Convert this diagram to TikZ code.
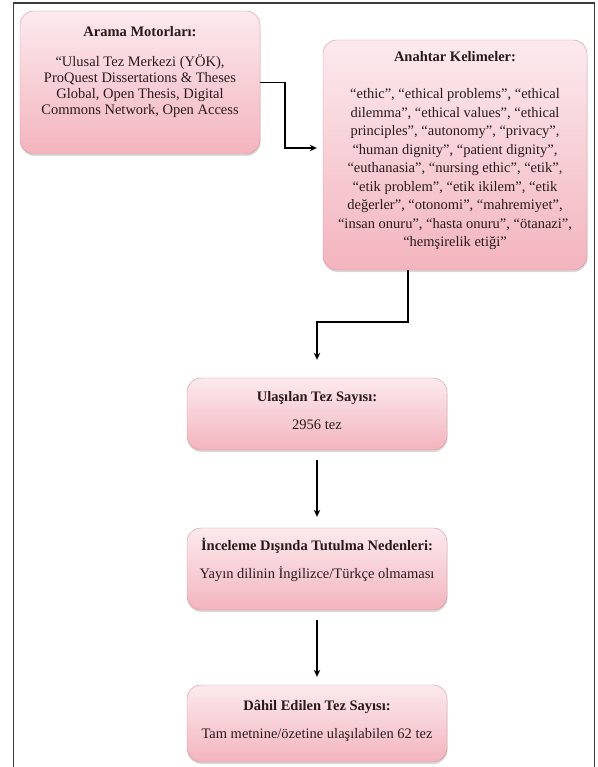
\documentclass[tikz,border=0pt]{standalone}
\usepackage{fontspec}
\setmainfont{Liberation Serif}
\usetikzlibrary{shadows,arrows.meta}

\definecolor{pembeust}{RGB}{252,234,238}
\definecolor{pembealt}{RGB}{243,180,190}
\definecolor{kenar}{RGB}{210,146,156}
\definecolor{yazi}{RGB}{40,26,26}
\definecolor{cerceve}{RGB}{60,60,60}

\begin{document}
\begin{tikzpicture}[x=1pt, y=-1pt,
  kutu/.style={draw=kenar, thin, rounded corners=14pt, top color=pembeust, bottom color=pembealt,
    align=center, inner sep=0pt, text=yazi, font=\fontsize{14.5}{17}\selectfont,
    drop shadow={opacity=0.3, shadow xshift=0.5pt, shadow yshift=-2pt}},
  ok/.style={line width=1.6pt, -{Stealth[length=7pt,width=6.5pt]}}]

\useasboundingbox (0,0) rectangle (597,767);

% FRAME
  \draw[cerceve, line width=1.2pt] (13.5,767) -- (13.5,3) -- (594.5,3) -- (594.5,767);

% Search engines
  \node[kutu, font=\fontsize{14.5}{16}\selectfont, minimum width=240pt, minimum height=143pt] (arama) at (140,82.5)
    {\textbf{Arama Motorları:}\\[14pt]
     “Ulusal Tez Merkezi (YÖK),\\
     ProQuest Dissertations \& Theses\\
     Global, Open Thesis, Digital\\
     Commons Network, Open Access\\[9pt]\mbox{}};

% Keywords
  \node[kutu, font=\fontsize{14.5}{18.5}\selectfont, minimum width=264pt, minimum height=230pt] (anahtar) at (455,155)
    {\textbf{Anahtar Kelimeler:}\\[19pt]
     “ethic”, “ethical problems”, “ethical\\
     dilemma”, “ethical values”, “ethical\\
     principles”, “autonomy”, “privacy”,\\
     “human dignity”, “patient dignity”,\\
     “euthanasia”, “nursing ethic”, “etik”,\\
     “etik problem”, “etik ikilem”, “etik\\
     değerler”, “otonomi”, “mahremiyet”,\\
     “insan onuru”, “hasta onuru”, “ötanazi”,\\
     “hemşirelik etiği”\\[-6pt]\mbox{}};

% Counts
  \node[kutu, minimum width=260pt, minimum height=72pt] (ulasilan) at (317,414)
    {\textbf{Ulaşılan Tez Sayısı:}\\[11pt] 2956 tez\\[-9pt]\mbox{}};
  \node[kutu, minimum width=260pt, minimum height=82pt] (inceleme) at (317,569)
    {\textbf{İnceleme Dışında Tutulma Nedenleri:}\\[11pt] Yayın dilinin İngilizce/Türkçe olmaması\\[5pt]\mbox{}};
  \node[kutu, minimum width=260pt, minimum height=77pt] (dahil) at (317,723.5)
    {\textbf{Dâhil Edilen Tez Sayısı:}\\[11pt] Tam metnine/özetine ulaşılabilen 62 tez\\[-8pt]\mbox{}};

% Arrows
  \draw[ok] (arama.east) -- ++(25,0) |- ([xshift=-6pt,yshift=7pt]anahtar.west);
  \draw[ok] ([xshift=-47pt]anahtar.south) -- ++(0,52) -| ([yshift=18pt]ulasilan.north);
  \draw[ok, shorten <=10pt, shorten >=11pt] (ulasilan.south) -- (inceleme.north);
  \draw[ok, shorten <=10pt, shorten >=8pt] (inceleme.south) -- (dahil.north);

\end{tikzpicture}
\end{document}
